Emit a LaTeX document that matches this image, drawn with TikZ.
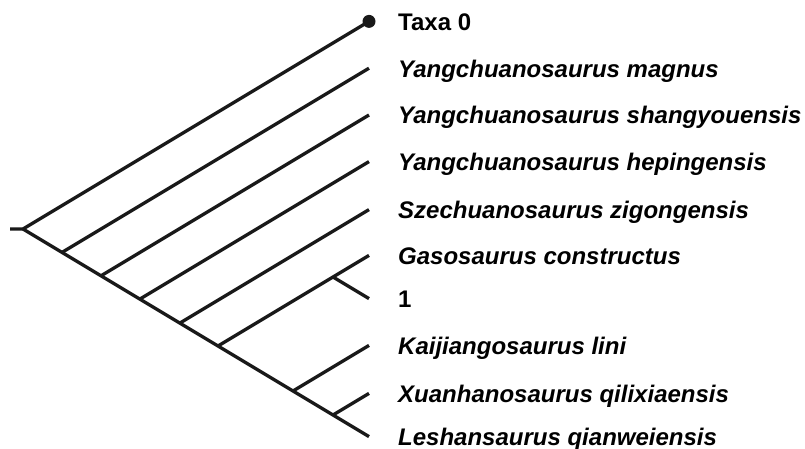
\documentclass[tikz,border=0pt]{standalone}
\usepackage{fontspec}
\setmainfont{Liberation Sans}
\usetikzlibrary{positioning}

\tikzset{
  branch/.style={line width=3.3pt, black!90},
  taxon/.style={inner sep=0pt, text height=18pt, text depth=0pt, anchor=west,
    font=\fontsize{24}{28}\selectfont\bfseries\itshape},
  plain/.style={taxon, font=\fontsize{24}{28}\selectfont\bfseries},
}

\begin{document}
\begin{tikzpicture}[x=1pt, y=-1pt, node distance=29pt]
\useasboundingbox (0,0) rectangle (805,449);
% inner nodes along the lower spine
\coordinate (stub) at (10,229);
\coordinate (root) at (23,229);
\coordinate (s1) at (62,252.4);
\coordinate (s2) at (101,275.8);
\coordinate (s3) at (140,299);
\coordinate (s4) at (180,323);
\coordinate (s5) at (218,346);
\coordinate (s6) at (293,391);
\coordinate (s7) at (333,415);
\coordinate (c1) at (333,277);
% tips
\coordinate (t0) at (369,21.4);
\coordinate (t1) at (369,68.2);
\coordinate (t2) at (369,115);
\coordinate (t3) at (369,161.6);
\coordinate (t4) at (369,209.6);
\coordinate (t5) at (369,255.4);
\coordinate (t6) at (369,298.6);
\coordinate (t7) at (369,345.4);
\coordinate (t8) at (369,393.4);
\coordinate (t9) at (369,436.6);

\draw [branch] (stub) -- (root) -- (t0);
\draw [branch] (root) -- (t9);
\draw [branch] (s1) -- (t1);
\draw [branch] (s2) -- (t2);
\draw [branch] (s3) -- (t3);
\draw [branch] (s4) -- (t4);
\draw [branch] (s5) -- (t5);
\draw [branch] (c1) -- (t6);
\draw [branch] (s6) -- (t7);
\draw [branch] (s7) -- (t8);
\fill [black!90] (t0) circle (6.5);

% labels
\node [plain, right=of t0] (l0) {Taxa 0};
\node [taxon, right=of t1] (l1) {Yangchuanosaurus magnus};
\node [taxon, right=of t2] (l2) {Yangchuanosaurus shangyouensis};
\node [taxon, right=of t3] (l3) {Yangchuanosaurus hepingensis};
\node [taxon, right=of t4] (l4) {Szechuanosaurus zigongensis};
\node [taxon, right=of t5] (l5) {Gasosaurus constructus};
\node [plain, right=of t6] (l6) {1};
\node [taxon, right=of t7] (l7) {Kaijiangosaurus lini};
\node [taxon, right=of t8] (l8) {Xuanhanosaurus qilixiaensis};
\node [taxon, right=of t9] (l9) {Leshansaurus qianweiensis};
\end{tikzpicture}
\end{document}
